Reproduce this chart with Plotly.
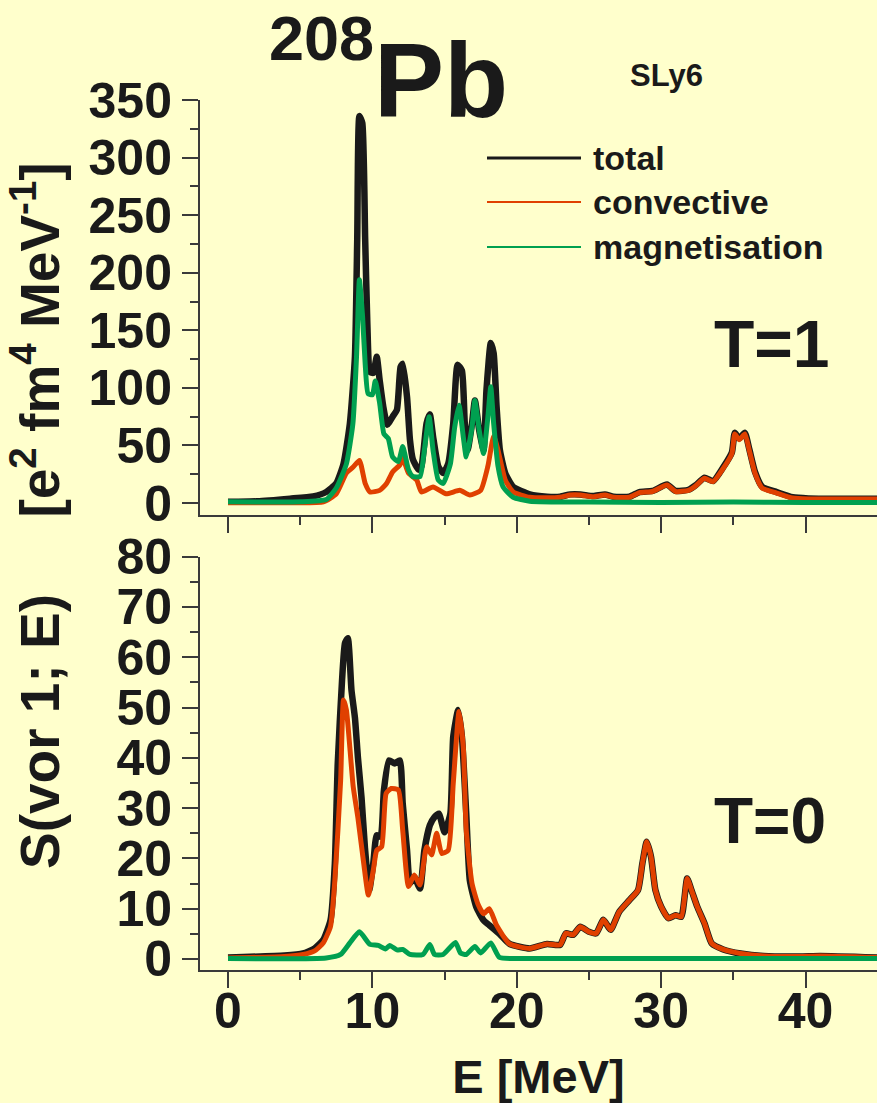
import plotly.graph_objects as go

# ---------------- data ----------------
# T=1 panel
E_T1_total = [0, 2, 4.3, 5.9, 6.8, 7.5, 8.0, 8.44, 8.79, 8.95, 9.1, 9.3, 9.5, 9.65, 9.83, 10.06, 10.3, 10.5, 10.75, 11.03,
              11.4, 11.7, 11.95, 12.1, 12.4, 12.6, 12.8, 13.2, 13.4, 13.75, 13.98, 14.2, 14.56, 14.9, 15.25, 15.6, 15.9,
              16.2, 16.4, 16.6, 16.9, 17.1, 17.4, 17.7, 17.9, 18.2, 18.4, 18.6, 18.83, 19.2, 19.75, 20.9, 22.1, 23.0,
              23.7, 24.4, 25.3, 26.1, 26.7, 27.8, 28.5, 29.4, 30.4, 31.0, 31.9, 32.4, 33.0, 33.6, 34.3, 34.9, 35.1, 35.4,
              35.8, 36.1, 36.5, 37.0, 38.0, 39.1, 40.2, 45]
S_T1_total = [1.0, 1.5, 3.8, 5.8, 9.6, 17, 34, 69, 127, 229, 336, 330, 229, 156, 114, 113, 127, 107, 84, 68,
              75, 81, 118, 121, 92, 55, 38, 29, 32, 69, 77, 58, 32, 26, 34, 69, 120,
              115, 69, 46, 69, 89, 63, 46, 98, 139, 130, 84, 46, 26, 14, 7.6, 5.5, 5.5,
              7.5, 7.5, 6, 7.5, 5.5, 5.5, 9.5, 10.5, 16, 10.5, 11.5, 15.5, 22, 19, 31, 44, 61, 56,
              61, 47, 27, 14, 9.5, 5, 4, 3.8]

E_T1_conv = [0, 4, 6.6, 7.5, 8.2, 8.65, 9.1, 9.5, 9.83, 10.5, 10.98, 11.4, 11.9, 12.1, 12.5, 13.07, 13.4, 14.2, 15.1,
             16.05, 16.75, 17.5, 18.0, 18.4, 18.7, 19.2, 19.75, 20.9, 22.1, 23.0, 23.7, 24.4, 25.3, 26.1, 26.7, 27.8,
             28.5, 29.4, 30.4, 31.0, 31.9, 32.4, 33.0, 33.6, 34.3, 34.9, 35.1, 35.4, 35.8, 36.1, 36.5, 37.0, 38.0,
             39.1, 40.2, 45]
S_T1_conv = [0.2, 0.3, 1, 8, 26, 31, 37, 17, 9.6, 11, 17, 27, 33, 39, 26, 20, 9.6, 14, 8,
             11, 7, 11, 32, 58, 46, 20, 9.6, 5, 4.5, 5, 7, 7, 5.5, 7, 5, 5,
             9, 10, 15.6, 10, 11, 15, 21.5, 18.6, 30, 43, 60, 55, 60, 46, 26, 13, 8.7,
             4.3, 3.5, 3.5]

E_T1_magn = [0, 5, 6.8, 7.5, 8.2, 8.65, 8.9, 9.1, 9.32, 9.5, 9.7, 10.0, 10.2, 10.5, 10.8, 11.1, 11.4, 11.8, 12.1,
             12.5, 12.8, 13.3, 13.6, 13.93, 14.2, 14.56, 14.9, 15.4, 15.7, 16.0, 16.3, 16.5, 16.9, 17.1, 17.4, 17.7,
             18.0, 18.2, 18.4, 18.7, 19.05, 19.75, 20.9, 25, 30, 35, 40, 45]
S_T1_magn = [1, 1, 3, 13, 34, 69, 127, 194, 162, 121, 95, 94, 106, 87, 60, 56, 40, 36, 49,
             29, 23, 23, 46, 75, 46, 20, 17, 34, 66, 85, 57, 40, 66, 89, 63, 43,
             75, 101, 69, 32, 14, 5, 1.6, 0.8, 0.5, 0.8, 0.5, 0.5]

# T=0 panel
E_T0_total = [0, 3.9, 5.2, 6.0, 6.6, 7.1, 7.4, 7.6, 7.9, 8.1, 8.3, 8.55, 8.79, 9.0, 9.25, 9.48, 9.78, 10.06, 10.3,
              10.57, 10.8, 11.15, 11.55, 11.9, 12.1, 12.4, 12.6, 12.9, 13.3, 13.6, 13.98, 14.3, 14.6, 15.0, 15.4, 15.6,
              15.94, 16.2, 16.5, 16.75, 17.2, 17.7, 18.1, 18.8, 19.5, 20.9, 22.1, 23.0, 23.4, 23.9, 24.4, 25.0, 25.5,
              26.0, 26.5, 27.1, 27.8, 28.4, 28.7, 29.0, 29.3, 29.6, 30.0, 30.5, 31.0, 31.4, 31.8, 32.1, 32.5, 33.0,
              33.5, 34.3, 35.5, 37.1, 39.6, 41.0, 45]
S_T0_total = [0.3, 0.7, 1.1, 2.1, 3.8, 7.7, 19, 38.9, 55.5, 62.8, 63.8, 53.5, 48, 40, 32, 22.3, 13.7, 19, 24.6,
              24.3, 33.6, 39.5, 38.9, 39.5, 30.9, 21.6, 15, 16.3, 14, 21.6, 26.6, 28.2, 28.9, 25.2, 28.9, 44.2,
              49.5, 44.2, 28.9, 15.6, 10.3, 7.7, 6.7, 5, 3, 2.1, 3, 2.8, 5.1, 4.8, 6.4, 5.4, 5.1,
              7.8, 5.8, 9.4, 11.7, 13.7, 19, 23.3, 20.3, 13.7, 10.4, 8.1, 8.7, 8.4, 16, 13.7, 10.4, 7.1,
              3.1, 1.9, 1.1, 0.6, 0.5, 0.6, 0.3]

E_T0_conv = [0, 3.9, 5.2, 6.0, 6.6, 7.1, 7.4, 7.8, 8.0, 8.2, 8.44, 8.67, 9.0, 9.4, 9.72, 10.06, 10.3, 10.64, 10.95,
             11.3, 11.8, 12.1, 12.5, 12.9, 13.3, 13.75, 14.1, 14.45, 14.8, 15.25, 15.6, 16.0, 16.3, 16.5, 16.9, 17.3,
             17.7, 18.1, 18.6, 19.5, 20.9, 22.1, 23.0, 23.4, 23.9, 24.4, 25.0, 25.5, 26.0, 26.5, 27.1, 27.8, 28.4,
             28.7, 29.0, 29.3, 29.6, 30.0, 30.5, 31.0, 31.4, 31.8, 32.1, 32.5, 33.0, 33.5, 34.3, 35.5, 37.1, 39.6,
             41.0, 45]
S_T0_conv = [0.2, 0.5, 0.9, 1.6, 3.2, 6.5, 15.6, 35.5, 51.5, 49.5, 42, 34.3, 28, 19, 12.7, 17.6, 21.6, 22.3, 32.9,
             33.9, 33.6, 25.6, 14.4, 16.7, 14.7, 22.3, 20.7, 25, 21, 21.6, 34.9, 49.2, 42, 25.6, 15, 11,
             9, 10, 6.7, 3, 2.1, 3, 2.8, 5.1, 4.8, 6.4, 5.4, 5.1, 7.8, 5.8, 9.4, 11.7, 13.7,
             19, 23.3, 20.3, 13.7, 10.4, 8.1, 8.7, 8.4, 16, 13.7, 10.4, 7.1, 3.1, 1.9, 1.1, 0.6, 0.5,
             0.6, 0.3]

E_T0_magn = [0, 6.8, 7.8, 8.44, 9.1, 9.83, 10.4, 10.9, 11.2, 11.7, 12.1, 12.6, 13.5, 13.98, 14.3, 14.9, 15.75, 16.1,
             16.5, 17.1, 17.5, 18.2, 18.8, 20, 45]
S_T0_magn = [0.1, 0.2, 0.9, 3.2, 5.4, 2.9, 2.7, 2.0, 2.7, 1.8, 1.9, 0.9, 0.9, 2.9, 0.9, 0.9, 3.3, 1.2,
             0.9, 2.5, 1.2, 3.2, 0.3, 0.1, 0.1]

series_names = ["total", "convective", "magnetisation"]
x_ticks = [0, 10, 20, 30, 40]

# ---------------- styling ----------------
BG = "#FFFFCC"
C_TOTAL = "#1a1a1a"
C_CONV = "#E04000"
C_MAGN = "#00A050"
AX = "#3a3a3a"
FONT = "Liberation Sans, Arial, sans-serif"

W, H = 877, 1103
L, R, T, B = 200, 0, 100, 133
PW, PH = W - L - R, H - T - B


def px(X):
    return (X - L) / PW


def py(Y):
    return (H - B - Y) / PH


fig = go.Figure()

panels = [
    ("x", "y", E_T1_total, S_T1_total, E_T1_conv, S_T1_conv, E_T1_magn, S_T1_magn),
    ("x2", "y2", E_T0_total, S_T0_total, E_T0_conv, S_T0_conv, E_T0_magn, S_T0_magn),
]
for xa, ya, et, st, ec, sc, em, sm in panels:
    fig.add_trace(go.Scatter(x=et, y=st, mode="lines", name=series_names[0], xaxis=xa, yaxis=ya,
                             line=dict(color=C_TOTAL, width=6.5, shape="spline", smoothing=0.5), showlegend=False))
    fig.add_trace(go.Scatter(x=ec, y=sc, mode="lines", name=series_names[1], xaxis=xa, yaxis=ya,
                             line=dict(color=C_CONV, width=5, shape="spline", smoothing=0.5), showlegend=False))
    fig.add_trace(go.Scatter(x=em, y=sm, mode="lines", name=series_names[2], xaxis=xa, yaxis=ya,
                             line=dict(color=C_MAGN, width=5, shape="spline", smoothing=0.5), showlegend=False))

tickfont = dict(family=FONT, size=50, color=C_TOTAL, weight="bold")
common_x = dict(range=[-1.94, 44.95], showline=True, linecolor=AX, linewidth=2, ticks="outside",
                tickcolor=AX, tickwidth=2, ticklen=16, tickvals=x_ticks, showgrid=False, zeroline=False,
                minor=dict(dtick=5, tick0=0, ticks="outside", ticklen=8, tickcolor=AX, tickwidth=2, showgrid=False))
common_y = dict(showline=True, linecolor=AX, linewidth=2, ticks="outside", tickcolor=AX, tickwidth=2,
                ticklen=16, showgrid=False, zeroline=False, tickfont=tickfont, ticklabelstandoff=0)

fig.update_layout(
    width=W, height=H,
    paper_bgcolor=BG, plot_bgcolor=BG,
    margin=dict(l=L, r=R, t=T, b=B),
    showlegend=False,
    xaxis=dict(common_x, anchor="y", domain=[0, 1], showticklabels=False),
    yaxis=dict(common_y, anchor="x", domain=[py(515), 1], range=[-10.4, 350], dtick=50,
               minor=dict(dtick=25, ticks="outside", ticklen=8, tickcolor=AX, tickwidth=2, showgrid=False)),
    xaxis2=dict(common_x, anchor="y2", domain=[0, 1], tickfont=tickfont, ticklabelstandoff=-20,
                title=dict(text="E [MeV]", font=dict(family=FONT, size=47, color=C_TOTAL, weight="bold"),
                           standoff=24)),
    yaxis2=dict(common_y, anchor="x2", domain=[0, py(556.7)], range=[-2.19, 80], dtick=10,
                minor=dict(dtick=5, ticks="outside", ticklen=8, tickcolor=AX, tickwidth=2, showgrid=False)),
)

# legend drawn by hand
legend_rows = [(158, C_TOTAL, 3), (202, C_CONV, 2), (247, C_MAGN, 2)]
for (yy, col, wd), name in zip(legend_rows, series_names):
    fig.add_shape(type="line", xref="paper", yref="paper", x0=px(487), x1=px(581), y0=py(yy), y1=py(yy),
                  line=dict(color=col, width=wd))
    fig.add_annotation(xref="paper", yref="paper", x=px(591), y=py(yy), xanchor="left", yanchor="middle",
                       text=name, showarrow=False,
                       font=dict(family=FONT, size=34, color=C_TOTAL, weight="bold"))


def label(text, X, Y, size, xanchor="center"):
    fig.add_annotation(xref="paper", yref="paper", x=px(X), y=py(Y), xanchor=xanchor, yanchor="middle",
                       text=text, showarrow=False,
                       font=dict(family=FONT, size=size, color=C_TOTAL, weight="bold"))


label("208", 321, 38, 63)
label("Pb", 441, 80, 105)
label("SLy6", 666, 76, 31)
label("T=1", 772, 344, 66)
label("T=0", 770, 821, 64)

fig.add_annotation(xref="paper", yref="paper", x=px(36), y=py(516), xanchor="center", yanchor="middle",
                   textangle=-90, showarrow=False,
                   text="S(vor 1; E)     [e<sup>2</sup> fm<sup>4</sup> MeV<sup>-1</sup>]",
                   font=dict(family=FONT, size=55, color=C_TOTAL, weight="bold"))

fig.write_html("out.html", config={"displayModeBar": False},
               post_script="document.body.style.margin='0';document.body.style.background='#FFFFCC';")
